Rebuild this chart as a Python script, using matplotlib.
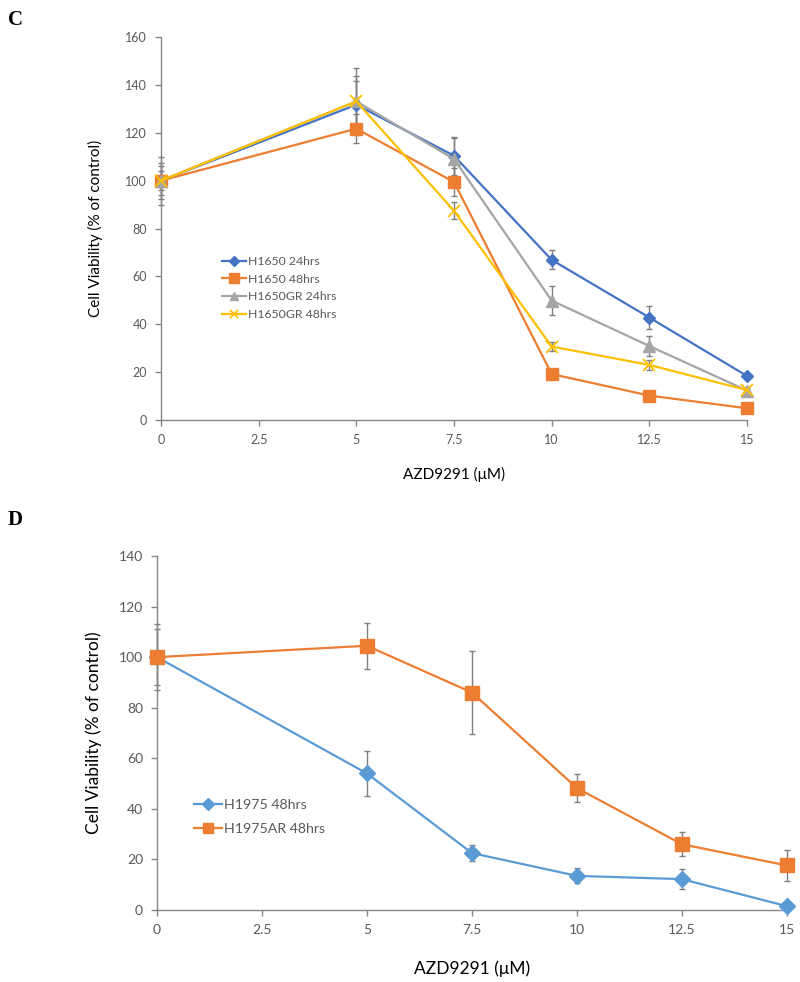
import matplotlib
matplotlib.use("Agg")
import matplotlib.pyplot as plt

plt.rcParams['font.family'] = ['Lato', 'DejaVu Sans']

# ---------------- Data ----------------
doses = [0, 2.5, 5, 7.5, 10, 12.5, 15]
x_pts = [0, 5, 7.5, 10, 12.5, 15]
xtick_labels = ["0", "2.5", "5", "7.5", "10", "12.5", "15"]

# Panel C
h1650_24 = [100, 131.7, 110.4, 66.9, 42.8, 18.4]
h1650_24_err = [10, 10, 8, 4, 4.7, 1.2]
h1650_48 = [100, 121.7, 99.4, 19.2, 10.2, 4.9]
h1650_48_err = [6, 6, 6, 1, 1, 1]
h1650gr_24 = [100, 133.1, 109.0, 49.9, 30.9, 12.3]
h1650gr_24_err = [7.5, 14, 9, 6, 4, 1.5]
h1650gr_48 = [100, 133.1, 87.4, 30.7, 23.0, 12.5]
h1650gr_48_err = [4, 10.5, 3.5, 1.7, 2, 1]

# Panel D
h1975_48 = [100, 54.0, 22.5, 13.5, 12.2, 1.5]
h1975_48_err = [13, 9, 3.2, 3, 4, 1]
h1975ar_48 = [100, 104.5, 86.0, 48.2, 26.0, 17.6]
h1975ar_48_err = [11, 9, 16.5, 5.5, 4.8, 6]

W, H = 800, 982
fig = plt.figure(figsize=(W / 100, H / 100), dpi=100)

def px_axes(l, t, r, b):
    return fig.add_axes([l / W, 1 - b / H, (r - l) / W, (b - t) / H])

axis_gray = '#868686'
tick_color = '#595959'
err_color = '#7f7f7f'

def style(ax, ymax, tfs):
    for s in ['top', 'right']:
        ax.spines[s].set_visible(False)
    for s in ['left', 'bottom']:
        ax.spines[s].set_color(axis_gray)
        ax.spines[s].set_linewidth(1.0)
    ax.set_xlim(0, 15)
    ax.set_ylim(0, ymax)
    ax.set_xticks(doses)
    ax.set_xticklabels(xtick_labels)
    ax.set_yticks(list(range(0, ymax + 1, 20)))
    ax.tick_params(axis='both', direction='out', length=4, width=1,
                   color=axis_gray, labelcolor=tick_color, labelsize=tfs, pad=6)

def series(ax, y, e, color, marker, ms, label, mew=1.0):
    ax.errorbar(x_pts, y, yerr=e, fmt='none', ecolor=err_color, elinewidth=1.0,
                capsize=2.5, capthick=1.0, zorder=2, clip_on=False)
    ax.plot(x_pts, y, color=color, lw=1.6, marker=marker, ms=ms,
            markerfacecolor=color, markeredgecolor=color, markeredgewidth=mew,
            label=label, zorder=3, clip_on=False)

# ---------------- Panel C ----------------
ax1 = px_axes(161, 37, 747, 420)
style(ax1, 160, 9)
series(ax1, h1650_24, h1650_24_err, '#4472C4', 'D', 6.5, 'H1650 24hrs')
series(ax1, h1650_48, h1650_48_err, '#ED7D31', 's', 9, 'H1650 48hrs')
series(ax1, h1650gr_24, h1650gr_24_err, '#A5A5A5', '^', 8.5, 'H1650GR 24hrs')
series(ax1, h1650gr_48, h1650gr_48_err, '#FFC000', 'x', 8, 'H1650GR 48hrs', mew=1.3)
ax1.set_xlabel('AZD9291 (μM)', fontsize=11, labelpad=15)
ax1.set_ylabel('Cell Viability (% of control)', fontsize=11, labelpad=16)
leg1 = ax1.legend(loc='upper left', bbox_to_anchor=(222 / W, 1 - 256 / H),
                  bbox_transform=fig.transFigure, frameon=False, fontsize=8.8,
                  handlelength=2.0, handletextpad=0.15, labelspacing=0.55,
                  borderpad=0, borderaxespad=0, markerscale=0.75)
for t in leg1.get_texts():
    t.set_color(tick_color)

# ---------------- Panel D ----------------
ax2 = px_axes(157, 556, 787, 910)
style(ax2, 140, 10)
series(ax2, h1975_48, h1975_48_err, '#5B9BD5', 'D', 8.5, 'H1975 48hrs')
series(ax2, h1975ar_48, h1975ar_48_err, '#ED7D31', 's', 10, 'H1975AR 48hrs')
ax2.set_xlabel('AZD9291 (μM)', fontsize=12.5, labelpad=18)
ax2.set_ylabel('Cell Viability (% of control)', fontsize=12.5, labelpad=12)
leg2 = ax2.legend(loc='upper left', bbox_to_anchor=(194 / W, 1 - 799 / H),
                  bbox_transform=fig.transFigure, frameon=False, fontsize=10.2,
                  handlelength=2.0, handletextpad=0.15, labelspacing=0.85,
                  borderpad=0, borderaxespad=0, markerscale=0.7)
for t in leg2.get_texts():
    t.set_color(tick_color)

# Panel letters
fig.text(8 / W, 1 - 20 / H, 'C', fontsize=15, fontweight='bold',
         family=['Liberation Serif'], va='center', ha='left')
fig.text(8 / W, 1 - 520 / H, 'D', fontsize=15, fontweight='bold',
         family=['Liberation Serif'], va='center', ha='left')

fig.savefig('out.png', dpi=100)
